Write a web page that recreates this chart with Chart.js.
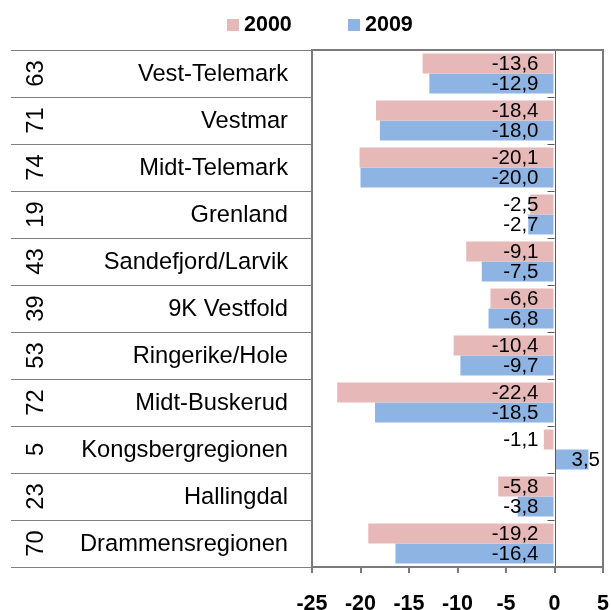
<!DOCTYPE html>
<html>
<head>
<meta charset="utf-8">
<script src="https://cdn.jsdelivr.net/npm/chart.js@4/dist/chart.umd.min.js"></script>
<style>
  html, body { margin: 0; padding: 0; background: #ffffff; }
  #wrap { width: 611px; height: 610px; }
</style>
</head>
<body>
<div id="wrap"><canvas id="c" width="611" height="610"></canvas></div>
<script>
const categories = ['Vest-Telemark', 'Vestmar', 'Midt-Telemark', 'Grenland', 'Sandefjord/Larvik',
  '9K Vestfold', 'Ringerike/Hole', 'Midt-Buskerud', 'Kongsbergregionen', 'Hallingdal', 'Drammensregionen'];
const codes = ['63', '71', '74', '19', '43', '39', '53', '72', '5', '23', '70'];
const seriesNames = ['2000', '2009'];
const values2000 = [-13.6, -18.4, -20.1, -2.5, -9.1, -6.6, -10.4, -22.4, -1.1, -5.8, -19.2];
const values2009 = [-12.9, -18.0, -20.0, -2.7, -7.5, -6.8, -9.7, -18.5, 3.5, -3.8, -16.4];
const xTicks = [-25, -20, -15, -10, -5, 0, 5];

const PINK = '#E6B9B8';
const BLUE = '#8EB4E3';
const FRAME = '#7a7a7a';
const FONT = '"Liberation Sans", Arial, sans-serif';

function fmt(v) { return v.toFixed(1).replace('.', ','); }

const decor = {
  id: 'decor',
  afterDatasetsDraw(chart) {
    const ctx = chart.ctx;
    const ca = chart.chartArea;
    const xs = chart.scales.x;
    const ys = chart.scales.y;
    const n = categories.length;
    const x0 = xs.getPixelForValue(0);
    const xR = xs.getPixelForValue(xTicks[xTicks.length - 1]);
    const xL = xs.getPixelForValue(xTicks[0]);
    ctx.save();

    // left label area separators
    ctx.strokeStyle = '#7f7f7f';
    ctx.lineWidth = 1;
    for (let i = 0; i <= n; i++) {
      const y = Math.round(ys.getPixelForValue(i - 0.5)) + 0.5;
      ctx.beginPath();
      ctx.moveTo(11, y);
      ctx.lineTo(xL, y);
      ctx.stroke();
    }

    // zero line with category tick marks
    ctx.strokeStyle = '#595959';
    ctx.lineWidth = 1;
    ctx.beginPath();
    ctx.moveTo(Math.round(x0) + 0.5, ca.top);
    ctx.lineTo(Math.round(x0) + 0.5, ca.bottom);
    ctx.stroke();
    for (let i = 0; i <= n; i++) {
      const y = Math.round(ys.getPixelForValue(i - 0.5)) + 0.5;
      ctx.beginPath();
      ctx.moveTo(x0 - 7, y);
      ctx.lineTo(x0, y);
      ctx.stroke();
    }

    // plot frame
    ctx.strokeStyle = FRAME;
    ctx.lineWidth = 2;
    ctx.beginPath();
    ctx.moveTo(xL, ca.top);
    ctx.lineTo(xR, ca.top);
    ctx.lineTo(xR, ca.bottom);
    ctx.lineTo(xL, ca.bottom);
    ctx.closePath();
    ctx.stroke();

    // category labels
    ctx.fillStyle = '#000';
    ctx.textBaseline = 'middle';
    ctx.font = '23.7px ' + FONT;
    for (let i = 0; i < n; i++) {
      const yc = ys.getPixelForValue(i);
      ctx.textAlign = 'right';
      ctx.fillText(categories[i], 288, yc + 1);
      ctx.save();
      ctx.translate(35, yc);
      ctx.rotate(-Math.PI / 2);
      ctx.textAlign = 'center';
      ctx.fillText(codes[i], 0, 1);
      ctx.restore();
    }

    // data labels
    ctx.font = '20.5px ' + FONT;
    chart.data.datasets.forEach((ds, di) => {
      const meta = chart.getDatasetMeta(di);
      meta.data.forEach((bar, j) => {
        const v = ds.data[j];
        if (v < 0) {
          ctx.textAlign = 'right';
          ctx.fillText(fmt(v), x0 - 16, bar.y + 1);
        } else {
          ctx.textAlign = 'left';
          ctx.fillText(fmt(v), x0 + 17, bar.y + 1);
        }
      });
    });

    // legend
    const legendItems = [
      { text: seriesNames[0], color: PINK, x: 227 },
      { text: seriesNames[1], color: BLUE, x: 348 }
    ];
    ctx.font = 'bold 21.5px ' + FONT;
    ctx.textAlign = 'left';
    legendItems.forEach(it => {
      ctx.fillStyle = it.color;
      ctx.fillRect(it.x, 19, 12, 12);
      ctx.fillStyle = '#000';
      ctx.fillText(it.text, it.x + 17, 25);
    });

    ctx.restore();
  }
};

new Chart(document.getElementById('c'), {
  type: 'bar',
  data: {
    labels: categories,
    datasets: [
      { label: seriesNames[0], data: values2000, backgroundColor: PINK, categoryPercentage: 0.85, barPercentage: 1.0 },
      { label: seriesNames[1], data: values2009, backgroundColor: BLUE, categoryPercentage: 0.85, barPercentage: 1.0 }
    ]
  },
  options: {
    indexAxis: 'y',
    responsive: false,
    animation: false,
    layout: { padding: { top: 50, right: 8, left: 0, bottom: 0 } },
    plugins: {
      legend: { display: false },
      tooltip: { enabled: false }
    },
    scales: {
      x: {
        type: 'linear',
        min: xTicks[0],
        max: xTicks[xTicks.length - 1],
        afterBuildTicks(scale) { scale.ticks = xTicks.map(v => ({ value: v })); },
        afterFit(scale) {
          scale.height = 43;
          scale.paddingLeft = 0;
          scale.paddingRight = 0;
        },
        ticks: {
          color: '#000',
          font: { family: FONT, size: 21.5, weight: 'bold' },
          padding: 18,
          maxRotation: 0,
          autoSkip: false,
          callback: (v) => String(v)
        },
        grid: { drawOnChartArea: false, drawTicks: true, tickLength: 6, color: FRAME, lineWidth: 2 },
        border: { display: true, color: FRAME, width: 2 }
      },
      y: {
        afterFit(scale) { scale.width = 312; },
        ticks: { display: false },
        grid: { display: false },
        border: { display: false }
      }
    }
  },
  plugins: [decor]
});
</script>
</body>
</html>
